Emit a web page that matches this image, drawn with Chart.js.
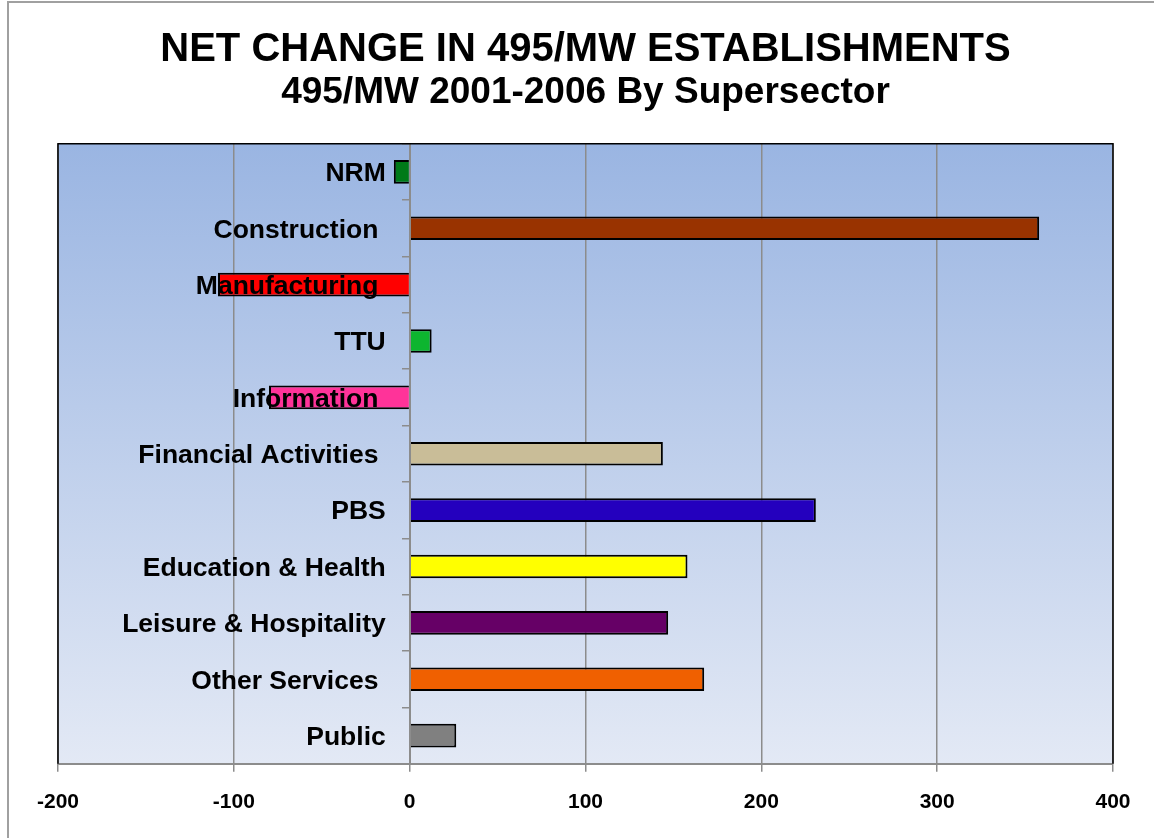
<!DOCTYPE html>
<html>
<head>
<meta charset="utf-8">
<title>Net change in 495/MW establishments</title>
<script src="https://cdn.jsdelivr.net/npm/chart.js@4.4.1/dist/chart.umd.min.js"></script>
<style>
    html, body { margin: 0; padding: 0; background: #fff; }
    #wrap { position: relative; width: 1154px; height: 838px; overflow: hidden; }
    #frame { position: absolute; left: 7px; top: 1px; width: 1200px; height: 900px; border-left: 2px solid #a0a0a0; border-top: 2px solid #a0a0a0; }
    canvas { position: absolute; left: 0; top: 0; }
</style>
</head>
<body>
<div id="wrap">
    <div id="frame"></div>
    <canvas id="barChart" width="1154" height="838"></canvas>
</div>
<script>
// Supersector labels (trailing spaces as in the original sheet)
const sectors = ['NRM', 'Construction ', 'Manufacturing ', 'TTU', 'Information ', 'Financial Activities ',
    'PBS', 'Education & Health', 'Leisure & Hospitality', 'Other Services ', 'Public'];

// Net change in establishments, 2001-2006
const netChange = [-9, 358, -109, 12.5, -80, 144, 231, 158, 147, 167.5, 26.5];

const barColors = ['#007A18', '#993300', '#FF0000', '#0DB52F', '#FF3399', '#C9BD98',
    '#2400BE', '#FFFF00', '#660066', '#F06000', '#808080'];

// x axis range / ticks
const xMin = -200;
const xMax = 400;
const xStep = 100;

const FONT = "'Liberation Sans', Arial, Helvetica, sans-serif";
const GRID = '#8c8c8c';

// Plot area: gradient fill + black frame (bottom edge is the gray axis)
const plotFrame = {
    id: 'plotFrame',
    beforeDraw(chart) {
        const { ctx, chartArea: a } = chart;
        const g = ctx.createLinearGradient(0, a.top, 0, a.bottom);
        g.addColorStop(0, '#9AB5E2');
        g.addColorStop(1, '#E3E9F5');
        ctx.save();
        ctx.fillStyle = g;
        ctx.fillRect(a.left, a.top, a.right - a.left, a.bottom - a.top);
        ctx.restore();
    },
    afterDraw(chart) {
        const { ctx, chartArea: a } = chart;
        ctx.save();
        ctx.strokeStyle = '#000';
        ctx.lineWidth = 1.5;
        ctx.beginPath();
        ctx.moveTo(a.left, a.bottom);
        ctx.lineTo(a.left, a.top);
        ctx.lineTo(a.right, a.top);
        ctx.lineTo(a.right, a.bottom);
        ctx.stroke();
        ctx.restore();
    }
};

const ctx = document.getElementById('barChart').getContext('2d');
new Chart(ctx, {
    type: 'bar',
    data: {
        labels: sectors,
        datasets: [{
            data: netChange,
            backgroundColor: barColors,
            borderColor: '#000',
            borderWidth: 2,
            barPercentage: 0.42,
            categoryPercentage: 1
        }]
    },
    plugins: [plotFrame],
    options: {
        indexAxis: 'y',
        responsive: false,
        animation: false,
        layout: { padding: { left: 58, right: 41, top: 0, bottom: 5 } },
        plugins: {
            legend: { display: false },
            tooltip: { enabled: false },
            title: {
                display: true,
                text: 'NET CHANGE IN 495/MW ESTABLISHMENTS',
                color: '#000',
                font: { family: FONT, size: 40, weight: 'bold', lineHeight: 1.05 },
                padding: { top: 29, bottom: 0 }
            },
            subtitle: {
                display: true,
                text: '495/MW 2001-2006 By Supersector',
                color: '#000',
                font: { family: FONT, size: 37, weight: 'bold', lineHeight: 1.1 },
                padding: { top: 1, bottom: 31 }
            }
        },
        scales: {
            x: {
                type: 'linear',
                min: xMin,
                max: xMax,
                grid: { color: GRID, lineWidth: 1.5, tickLength: 8, tickColor: GRID },
                border: { color: GRID, width: 2 },
                ticks: {
                    stepSize: xStep,
                    padding: 18,
                    color: '#000',
                    font: { family: FONT, size: 21, weight: 'bold' }
                }
            },
            // axis line + tick marks at zero
            y: {
                type: 'category',
                position: { x: 0 },
                grid: { drawOnChartArea: false, color: GRID, lineWidth: 1.5, tickLength: 7, offset: true, z: 1 },
                border: { color: GRID, width: 2, z: 1 },
                ticks: { display: false }
            },
            // category names, set back a little from the zero line, drawn over the bars
            yLabels: {
                type: 'category',
                axis: 'y',
                position: { x: -13.6 },
                offset: true,
                grid: { display: false },
                border: { display: false },
                ticks: {
                    z: 2,
                    autoSkip: false,
                    padding: 0,
                    labelOffset: 2,
                    color: '#000',
                    font: { family: FONT, size: 26.5, weight: 'bold' }
                }
            }
        }
    }
});
</script>
</body>
</html>
